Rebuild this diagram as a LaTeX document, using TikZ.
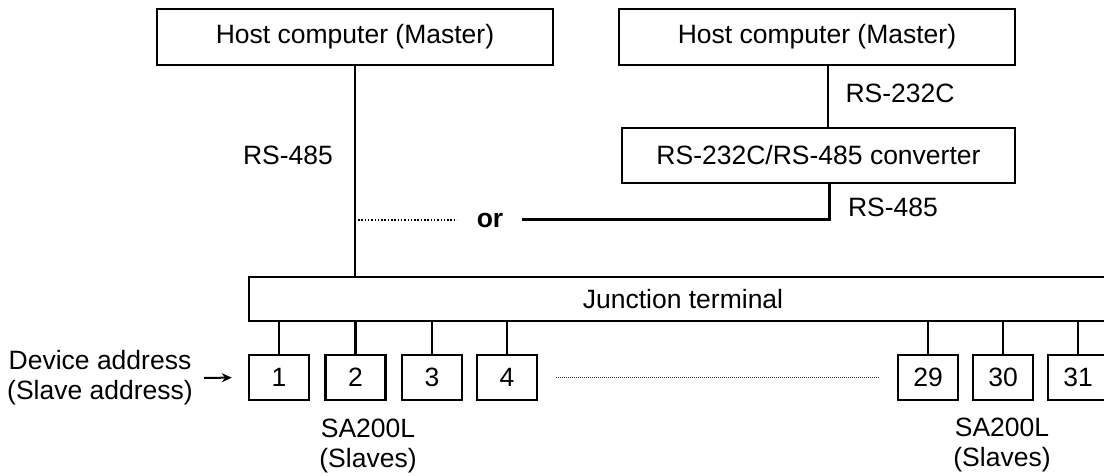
\documentclass[tikz,border=0pt]{standalone}
\usepackage{fontspec}
\setmainfont{Liberation Sans}
\usetikzlibrary{arrows.meta}
\begin{document}
\begin{tikzpicture}[x=1pt,y=1pt,
  every node/.style={font=\fontsize{26.5}{30}\selectfont},
  box/.style={draw, line width=2.4pt, rectangle, inner sep=0pt},
  lbl/.style={inner sep=0pt, align=center},
  wire/.style={line width=2.2pt},
  slave/.style={box, minimum width=60pt, minimum height=45pt}]
\useasboundingbox (0,0) rectangle (1104,-476);
\clip (0,0) rectangle (1104,-476);
% hosts
\node[box, minimum width=396pt, minimum height=56pt] (h1) at (355,-37) {Host computer (Master)};
\node[box, minimum width=396pt, minimum height=56pt] (h2) at (817,-37) {Host computer (Master)};
\node[box, minimum width=393pt, minimum height=55pt] (conv) at (818.5,-155.5) {RS-232C/RS-485 converter};
% junction
\node[box, minimum width=868pt, minimum height=44pt] (jt) at (683,-299) {Junction terminal};
% slaves
\node[slave] (s1) at (279,-377.5) {1};
\node[slave] (s2) at (355.5,-377.5) {2};
\node[slave] (s3) at (432,-377.5) {3};
\node[slave] (s4) at (507,-377.5) {4};
\node[slave] (s29) at (928,-377.5) {29};
\node[slave] (s30) at (1003,-377.5) {30};
\node[slave] (s31) at (1078,-377.5) {31};
\foreach \s in {s1,s2,s3,s4,s29,s30,s31}
  \draw[wire] (\s.north) -- (\s.north |- jt.south);
% left connection
\draw[wire] (h1.south) -- (h1.south |- jt.north);
\node[lbl] (l485) at (288,-155) {RS-485};
% right connection
\draw[wire] ([xshift=11pt]h2.south) -- ([xshift=11pt]h2.south |- conv.north);
\node[lbl] (l232) at (900,-93) {RS-232C};
\coordinate (orR) at (522,-219.5);
\draw[wire] ([xshift=11pt]conv.south) |- (orR);
\node[lbl] (r485) at (893,-207) {RS-485};
% or
\node[lbl, font=\fontsize{26.5}{30}\selectfont\bfseries] (or) at (490,-220) {or};
\coordinate (dA) at (358,-220);
\coordinate (dB) at (457,-220);
\draw[line width=2pt, dash pattern=on 1.5pt off 1.8pt] (dA) -- (dB);
% dotted between slaves
\draw[line width=1.2pt, dash pattern=on 1pt off 1pt, black!80] ([xshift=18pt]s4.east) -- ([xshift=-18pt]s29.west);
% device address
\node[lbl] (dev) at (100,-378) {Device address\\(Slave address)};
\draw[line width=2pt, -{Stealth[length=10pt,width=9pt]}, shorten <=11pt, shorten >=16pt] (dev.east) -- (s1.west);
% SA200L labels
\node[lbl] (sa1) at (368,-446) {SA200L\\(Slaves)};
\node[lbl] (sa2) at (1002,-445) {SA200L\\(Slaves)};
\end{tikzpicture}
\end{document}
